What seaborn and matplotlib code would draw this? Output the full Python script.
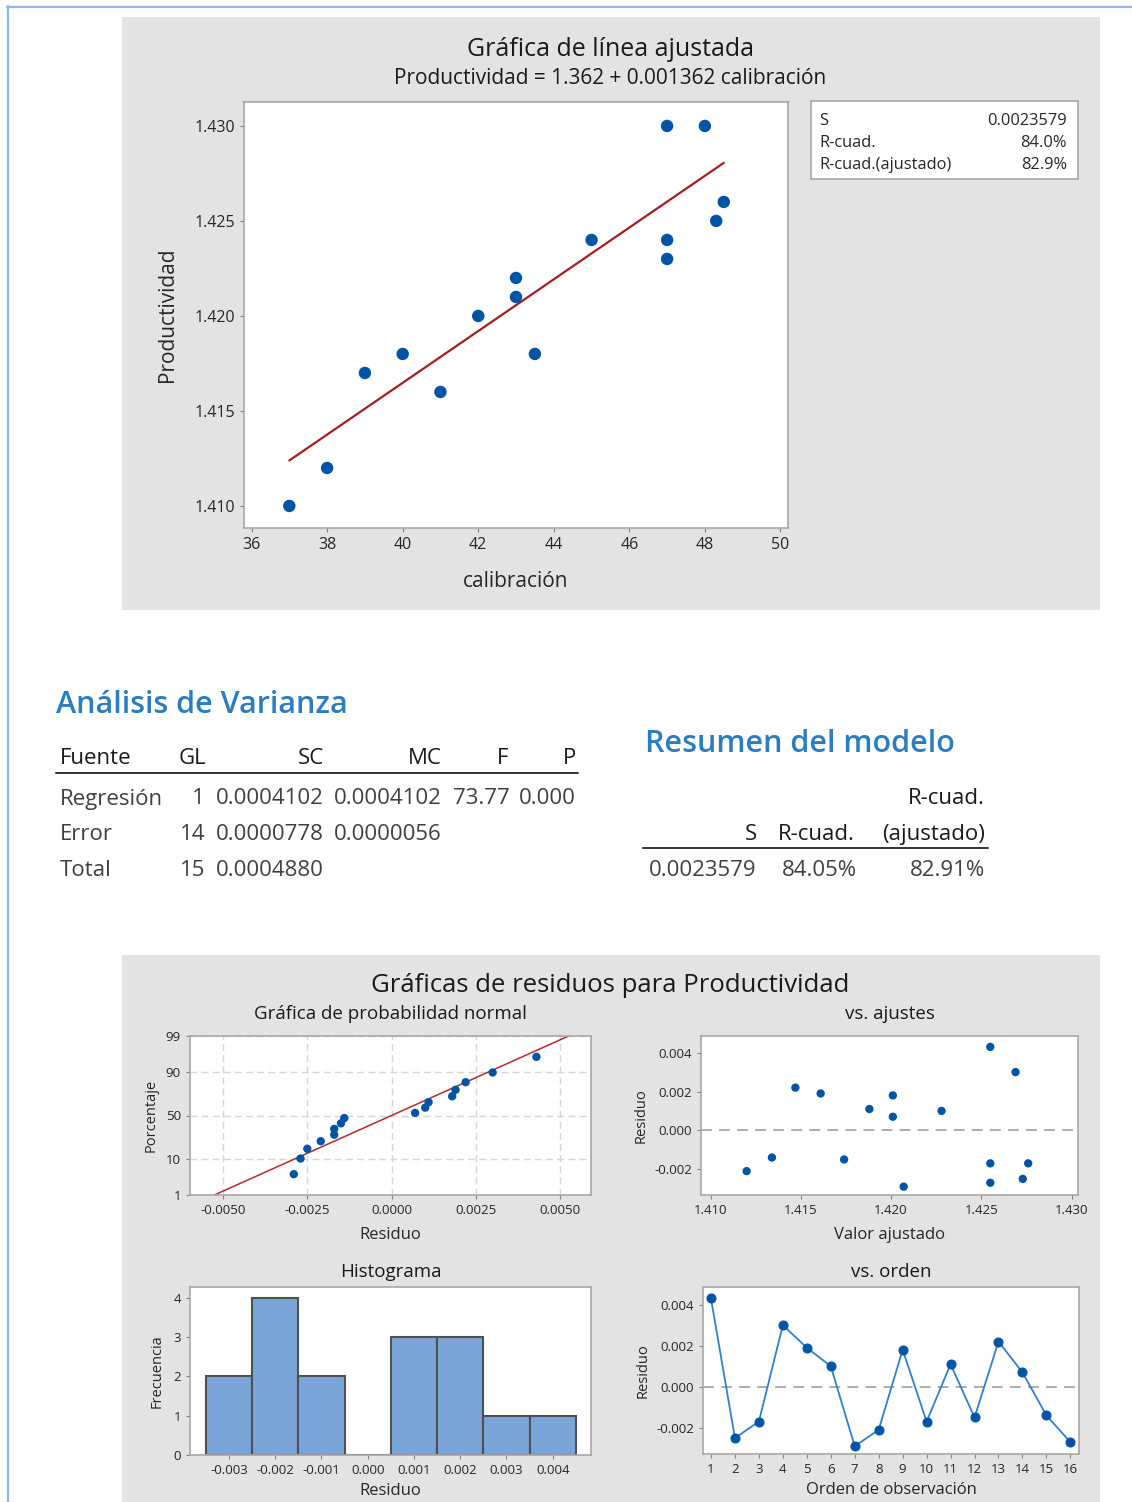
import math
import numpy as np
import matplotlib
matplotlib.use("Agg")
import matplotlib.pyplot as plt
from matplotlib.patches import Rectangle
from matplotlib.lines import Line2D
from matplotlib.ticker import FormatStrFormatter, FixedFormatter
import seaborn as sns

# ---- datos (orden de observacion) ----
orden = [1, 2, 3, 4, 5, 6, 7, 8, 9, 10, 11, 12, 13, 14, 15, 16]
calibracion = [47, 48.3, 48.5, 48, 40, 45, 43.5, 37, 43, 47, 42, 41, 39, 43, 38, 47]
productividad = [1.430, 1.425, 1.426, 1.430, 1.418, 1.424, 1.418, 1.410,
                 1.422, 1.424, 1.420, 1.416, 1.417, 1.421, 1.412, 1.423]
ajustados = [1.4255, 1.4273, 1.4276, 1.4269, 1.4161, 1.4228, 1.4207, 1.4120,
             1.4201, 1.4255, 1.4188, 1.4174, 1.4147, 1.4201, 1.4134, 1.4255]
residuos = [0.0043, -0.0025, -0.0017, 0.0030, 0.0019, 0.0010, -0.0029, -0.0021,
            0.0018, -0.0017, 0.0011, -0.0015, 0.0022, 0.0007, -0.0014, -0.0027]

# recta ajustada: Productividad = 1.362 + 0.001362 calibracion
intercepto = 1.362
pendiente = 0.001362

# grafica de probabilidad normal
porcentaje = [4.3, 10.4, 16.5, 22.6, 28.7, 34.8, 40.9, 47.0,
              53.0, 59.1, 65.2, 71.3, 77.4, 83.5, 89.6, 95.7]
media_normal = 0.0
desv_normal = 0.00226

# histograma de residuos
centros_hist = [-0.003, -0.002, -0.001, 0.000, 0.001, 0.002, 0.003, 0.004]
frecuencias = [2, 4, 2, 0, 3, 3, 1, 1]

# tablas
fuente = ["Regresión", "Error", "Total"]
gl = ["1", "14", "15"]
sc = ["0.0004102", "0.0000778", "0.0004880"]
mc = ["0.0004102", "0.0000056", ""]
f_val = ["73.77", "", ""]
p_val = ["0.000", "", ""]
resumen = ["0.0023579", "84.05%", "82.91%"]
caja_nombres = ["S", "R-cuad.", "R-cuad.(ajustado)"]
caja_valores = ["0.0023579", "84.0%", "82.9%"]

sns.set_style("white")
plt.rcParams['font.family'] = ['Open Sans', 'DejaVu Sans']
plt.rcParams['axes.unicode_minus'] = False

W, H = 1132, 1502
fig = plt.figure(figsize=(W / 100, H / 100), dpi=100)


def caja(l, t, r, b):
    return [l / W, 1 - b / H, (r - l) / W, (b - t) / H]


def fx(x):
    return x / W


def fy(y):
    return 1 - y / H


AZUL = '#0054a6'
TXT = '#262626'
GRIS_PANEL = '#e3e3e3'
AZUL_TIT = '#2a7dc0'
TAM_TICK = 9.5
TAM_SUB = 13.5

# paneles grises y borde azul
fig.add_artist(Rectangle((fx(122), fy(610)), (1100 - 122) / W, (610 - 17) / H,
                         transform=fig.transFigure, facecolor=GRIS_PANEL,
                         edgecolor='none', zorder=-5))
fig.add_artist(Rectangle((fx(122), 0), (1100 - 122) / W, (1502 - 955) / H,
                         transform=fig.transFigure, facecolor=GRIS_PANEL,
                         edgecolor='none', zorder=-5))
fig.add_artist(Line2D([fx(7), 1], [fy(6.5), fy(6.5)], color='#8db8e8', lw=1.6))
fig.add_artist(Line2D([fx(7.5), fx(7.5)], [fy(6), 0], color='#8db8e8', lw=1.6))


def estilo(ax, size):
    ax.set_facecolor('white')
    for s in ax.spines.values():
        s.set_visible(True)
        s.set_color('#a8a8a8')
        s.set_linewidth(1.2)
    ax.tick_params(axis='both', length=3, width=0.8, color='#808080',
                   labelcolor=TXT, labelsize=size, left=True, bottom=True)


# ---- grafica de linea ajustada ----
ax = fig.add_axes(caja(244, 102, 788, 528))
sns.scatterplot(x=calibracion, y=productividad, ax=ax, color=AZUL, s=80,
                edgecolor='none', zorder=3)
linea_x = [min(calibracion), max(calibracion)]
linea_y = [intercepto + pendiente * v for v in linea_x]
sns.lineplot(x=linea_x, y=linea_y, ax=ax, color='#a51d23', lw=1.6)
ax.set_xlim(35.8, 50.2)
ax.set_ylim(1.40884, 1.43126)
ax.set_xticks([36, 38, 40, 42, 44, 46, 48, 50])
ax.set_yticks([1.410, 1.415, 1.420, 1.425, 1.430])
ax.yaxis.set_major_formatter(FormatStrFormatter('%.3f'))
estilo(ax, 11.5)
ax.set_xlabel('calibración', fontsize=15, color=TXT, labelpad=13)
ax.set_ylabel('Productividad', fontsize=15, color=TXT, labelpad=12)

fig.text(fx(611), fy(50), 'Gráfica de línea ajustada', ha='center', va='center',
         fontsize=18, color='#1a1a1a')
fig.text(fx(610), fy(78), 'Productividad = 1.362 + 0.001362 calibración',
         ha='center', va='center', fontsize=15, color='#1a1a1a')

axb = fig.add_axes(caja(811, 101, 1078, 179))
axb.set_xticks([])
axb.set_yticks([])
for s in axb.spines.values():
    s.set_color('#a8a8a8')
    s.set_linewidth(1.2)
for i, (n, v) in enumerate(zip(caja_nombres, caja_valores)):
    yy = 1 - (121 + 22 * i - 101) / 78
    axb.text(0.032, yy, n, ha='left', va='center', fontsize=11.8, color=TXT,
             transform=axb.transAxes)
    axb.text(0.959, yy, v, ha='right', va='center', fontsize=11.8, color=TXT,
             transform=axb.transAxes)

# ---- Analisis de Varianza ----
fig.text(fx(56), fy(705), 'Análisis de Varianza', ha='left', va='center',
         fontsize=22, color=AZUL_TIT, fontweight='semibold')
enc = [('Fuente', 60, 'left'), ('GL', 206, 'right'), ('SC', 324, 'right'),
       ('MC', 442, 'right'), ('F', 508, 'right'), ('P', 576, 'right')]
for t, x, ha in enc:
    fig.text(fx(x), fy(759), t, ha=ha, va='center', fontsize=16, color='#1a1a1a')
fig.add_artist(Line2D([fx(56), fx(578)], [fy(773), fy(773)], color='#333333', lw=1.4))
for i in range(3):
    yy = fy(799 + 36 * i)
    fig.text(fx(60), yy, fuente[i], ha='left', va='center', fontsize=16, color='#404040')
    cols = [(gl[i], 205), (sc[i], 324), (mc[i], 442), (f_val[i], 510), (p_val[i], 576)]
    for t, x in cols:
        fig.text(fx(x), yy, t, ha='right', va='center', fontsize=16, color='#404040')

# ---- Resumen del modelo ----
fig.text(fx(645), fy(744), 'Resumen del modelo', ha='left', va='center',
         fontsize=22, color=AZUL_TIT, fontweight='semibold')
fig.text(fx(985), fy(799), 'R-cuad.', ha='right', va='center', fontsize=16, color='#1a1a1a')
fig.text(fx(757), fy(834), 'S', ha='right', va='center', fontsize=16, color='#1a1a1a')
fig.text(fx(855), fy(834), 'R-cuad.', ha='right', va='center', fontsize=16, color='#1a1a1a')
fig.text(fx(985), fy(834), '(ajustado)', ha='right', va='center', fontsize=16, color='#1a1a1a')
fig.add_artist(Line2D([fx(643), fx(988)], [fy(848), fy(848)], color='#333333', lw=1.4))
for t, x in zip(resumen, [757, 857, 985]):
    fig.text(fx(x), fy(871), t, ha='right', va='center', fontsize=16, color='#404040')

# ---- Graficas de residuos ----
fig.text(fx(610), fy(985), 'Gráficas de residuos para Productividad', ha='center',
         va='center', fontsize=18.5, color='#1a1a1a')


def ppf(p):
    # inversa de la normal estandar (Acklam)
    p = np.clip(np.asarray(p, dtype=float), 1e-9, 1 - 1e-9)
    a = [-3.969683028665376e+01, 2.209460984245205e+02, -2.759285104469687e+02,
         1.383577518672690e+02, -3.066479806614716e+01, 2.506628277459239e+00]
    b = [-5.447609879822406e+01, 1.615858368580409e+02, -1.556989798598866e+02,
         6.680131188771972e+01, -1.328068155288572e+01]
    c = [-7.784894002430293e-03, -3.223964580411365e-01, -2.400758277161838e+00,
         -2.549671010229528e+00, 4.374664141464968e+00, 2.938163982698783e+00]
    d = [7.784695709041462e-03, 3.224671290700398e-01, 2.445134137142996e+00,
         3.754408661907416e+00]
    out = np.empty_like(p)
    lo = p < 0.02425
    hi = p > 1 - 0.02425
    mid = ~(lo | hi)
    q = p[mid] - 0.5
    r = q * q
    out[mid] = ((((((a[0] * r + a[1]) * r + a[2]) * r + a[3]) * r + a[4]) * r + a[5]) * q /
                (((((b[0] * r + b[1]) * r + b[2]) * r + b[3]) * r + b[4]) * r + 1))
    for m, sgn, pp in ((lo, 1, p[lo]), (hi, -1, 1 - p[hi])):
        q = np.sqrt(-2 * np.log(pp))
        out[m] = sgn * ((((((c[0] * q + c[1]) * q + c[2]) * q + c[3]) * q + c[4]) * q + c[5]) /
                        ((((d[0] * q + d[1]) * q + d[2]) * q + d[3]) * q + 1))
    return out


_erf = np.frompyfunc(math.erf, 1, 1)


def fwd(pct):
    return ppf(np.asarray(pct, dtype=float) / 100.0)


def inv(z):
    z = np.asarray(z, dtype=float)
    return 100.0 * 0.5 * (1 + _erf(z / math.sqrt(2)).astype(float))


def rejilla(ax, xs, ys):
    for v in xs:
        ax.axvline(v, color='#d6d6d6', lw=1, ls=(0, (5, 3)), zorder=0)
    for v in ys:
        ax.axhline(v, color='#d6d6d6', lw=1, ls=(0, (5, 3)), zorder=0)


# probabilidad normal
axp = fig.add_axes(caja(190, 1036, 591, 1195))
axp.set_yscale('function', functions=(fwd, inv))
xt = [-0.005, -0.0025, 0.0, 0.0025, 0.005]
yt = [1, 10, 50, 90, 99]
rejilla(axp, xt, yt)
sns.scatterplot(x=sorted(residuos), y=porcentaje, ax=axp, color=AZUL, s=36,
                edgecolor='none', zorder=3)
pct_linea = [1, 99]
x_linea = [media_normal + desv_normal * float(ppf(p / 100.0)) for p in pct_linea]
sns.lineplot(x=x_linea, y=pct_linea, ax=axp, color='#b52a2a', lw=1.1)
axp.set_xlim(-0.00598, 0.00592)
axp.set_ylim(1, 99)
axp.set_xticks(xt)
axp.xaxis.set_major_formatter(FormatStrFormatter('%.4f'))
axp.set_yticks(yt)
axp.yaxis.set_major_formatter(FixedFormatter([str(v) for v in yt]))
axp.yaxis.set_minor_locator(matplotlib.ticker.NullLocator())
estilo(axp, TAM_TICK)
axp.set_title('Gráfica de probabilidad normal', fontsize=TAM_SUB, color='#1a1a1a', pad=12)
axp.set_xlabel('Residuo', fontsize=12, color=TXT, labelpad=7)
axp.set_ylabel('Porcentaje', fontsize=10.5, color=TXT, labelpad=5)

# vs. ajustes
axf = fig.add_axes(caja(701, 1036, 1078, 1195))
axf.axhline(0, color='#a6a6a6', lw=1.3, ls=(0, (6, 4)), zorder=1)
sns.scatterplot(x=ajustados, y=residuos, ax=axf, color=AZUL, s=36,
                edgecolor='none', zorder=3)
axf.set_xlim(1.40947, 1.43036)
axf.set_ylim(-0.00333, 0.00486)
axf.set_xticks([1.410, 1.415, 1.420, 1.425, 1.430])
axf.xaxis.set_major_formatter(FormatStrFormatter('%.3f'))
axf.set_yticks([-0.002, 0.0, 0.002, 0.004])
axf.yaxis.set_major_formatter(FormatStrFormatter('%.3f'))
estilo(axf, TAM_TICK)
axf.set_title('vs. ajustes', fontsize=TAM_SUB, color='#1a1a1a', pad=12)
axf.set_xlabel('Valor ajustado', fontsize=12, color=TXT, labelpad=7)
axf.set_ylabel('Residuo', fontsize=10.5, color=TXT, labelpad=4)

# histograma
axh = fig.add_axes(caja(190, 1287, 591, 1455))
sns.histplot(x=centros_hist, weights=frecuencias, binwidth=0.001,
             binrange=(-0.0035, 0.0045), ax=axh, color='#7ba5d8', alpha=1,
             edgecolor='#505050', linewidth=1.5)
axh.set_xlim(-0.003844, 0.004829)
axh.set_ylim(0, 4.27)
axh.set_xticks(centros_hist)
axh.xaxis.set_major_formatter(FormatStrFormatter('%.3f'))
axh.set_yticks([0, 1, 2, 3, 4])
estilo(axh, TAM_TICK)
axh.set_title('Histograma', fontsize=TAM_SUB, color='#1a1a1a', pad=7)
axh.set_xlabel('Residuo', fontsize=12, color=TXT, labelpad=4)
axh.set_ylabel('Frecuencia', fontsize=10.5, color=TXT, labelpad=6)

# vs. orden
axo = fig.add_axes(caja(703, 1287, 1079, 1454))
axo.axhline(0, color='#a6a6a6', lw=1.3, ls=(0, (6, 4)), zorder=1)
sns.lineplot(x=orden, y=residuos, ax=axo, color='#2f80d0', lw=1.3, marker='o',
             markersize=6.5, markerfacecolor=AZUL, markeredgecolor=AZUL, zorder=3)
axo.set_xlim(0.667, 16.36)
axo.set_ylim(-0.00328, 0.00486)
axo.set_xticks(orden)
axo.set_yticks([-0.002, 0.0, 0.002, 0.004])
axo.yaxis.set_major_formatter(FormatStrFormatter('%.3f'))
estilo(axo, TAM_TICK)
axo.set_title('vs. orden', fontsize=TAM_SUB, color='#1a1a1a', pad=7)
axo.set_xlabel('Orden de observación', fontsize=12, color=TXT, labelpad=4)
axo.set_ylabel('Residuo', fontsize=10.5, color=TXT, labelpad=4)

fig.savefig('out.png', dpi=100)
